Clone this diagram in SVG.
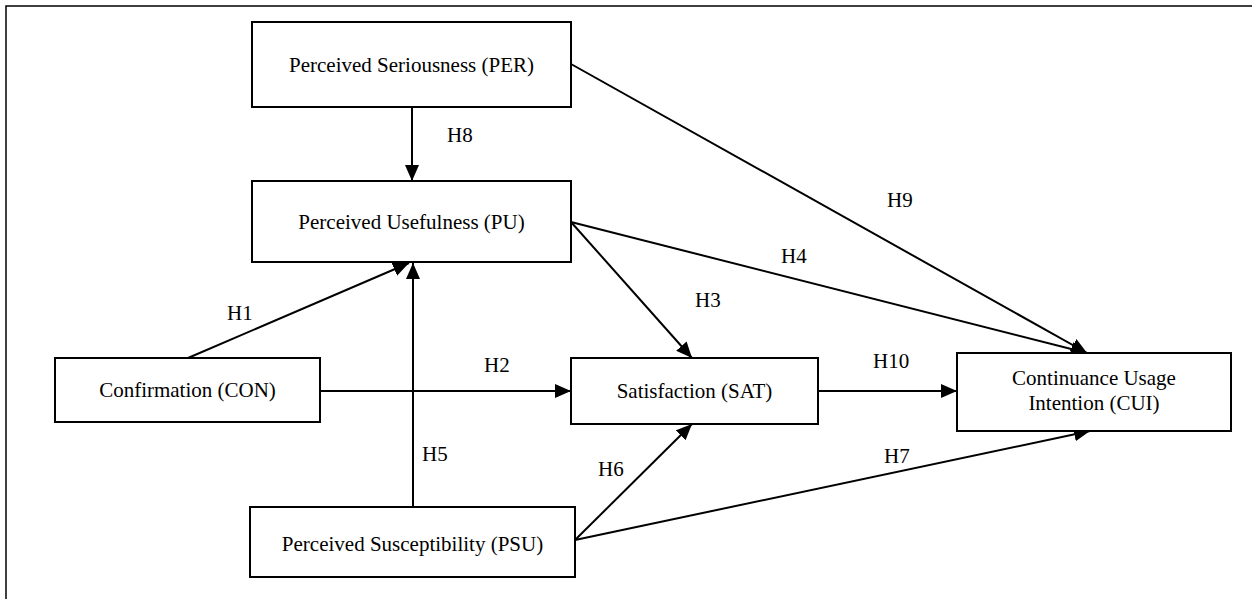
<svg xmlns="http://www.w3.org/2000/svg" width="1252" height="599" viewBox="0 0 1252 599">
<style>
.box{fill:#fff;stroke:#000;stroke-width:2}
.t{font-family:"Liberation Serif","Times New Roman",serif;font-size:21px;fill:#000}
.c{text-anchor:middle}
.ln{stroke:#000;stroke-width:2;fill:none}
</style>
<defs>
<marker id="ah" markerUnits="userSpaceOnUse" markerWidth="16" markerHeight="14" refX="16" refY="7" orient="auto">
<path d="M0,0 L16,7 L0,14 z" fill="#000"/>
</marker>
</defs>
<rect x="0" y="0" width="1252" height="599" fill="#fff"/>
<rect x="6" y="6" width="1260" height="620" fill="none" stroke="#000" stroke-width="1.5"/>
<g id="connectors">
<line class="ln" x1="412" y1="107" x2="412" y2="181" marker-end="url(#ah)"/>
<line class="ln" x1="571" y1="64" x2="1087" y2="353" marker-end="url(#ah)"/>
<line class="ln" x1="571" y1="222" x2="1087" y2="353" marker-end="url(#ah)"/>
<line class="ln" x1="571" y1="222" x2="692" y2="358" marker-end="url(#ah)"/>
<line class="ln" x1="818" y1="391" x2="957" y2="391" marker-end="url(#ah)"/>
<line class="ln" x1="320" y1="391" x2="571" y2="391" marker-end="url(#ah)"/>
<line class="ln" x1="188" y1="358" x2="409" y2="263" marker-end="url(#ah)"/>
<line class="ln" x1="413" y1="507" x2="413" y2="263" marker-end="url(#ah)"/>
<line class="ln" x1="575" y1="540" x2="692" y2="424" marker-end="url(#ah)"/>
<line class="ln" x1="575" y1="540" x2="1090" y2="431" marker-end="url(#ah)"/>
<text class="t" x="447" y="142">H8</text>
<text class="t" x="887" y="207">H9</text>
<text class="t" x="781" y="263">H4</text>
<text class="t" x="695" y="307">H3</text>
<text class="t" x="873" y="368">H10</text>
<text class="t" x="484" y="372">H2</text>
<text class="t" x="227" y="320">H1</text>
<text class="t" x="422" y="461">H5</text>
<text class="t" x="598" y="476">H6</text>
<text class="t" x="884" y="463">H7</text>
</g>
<g id="per"><rect class="box" x="252" y="22" width="319" height="85"/><text class="t c" x="411.5" y="72">Perceived Seriousness (PER)</text></g>
<g id="pu"><rect class="box" x="252" y="181" width="319" height="81"/><text class="t c" x="411.5" y="229">Perceived Usefulness (PU)</text></g>
<g id="con"><rect class="box" x="55" y="358" width="265" height="64"/><text class="t c" x="187.5" y="397">Confirmation (CON)</text></g>
<g id="sat"><rect class="box" x="571" y="358" width="247" height="66"/><text class="t c" x="694.5" y="398">Satisfaction (SAT)</text></g>
<g id="cui"><rect class="box" x="957" y="353" width="274" height="78"/><text class="t c" x="1094" y="385">Continuance Usage</text><text class="t c" x="1094" y="410">Intention (CUI)</text></g>
<g id="psu"><rect class="box" x="250" y="507" width="325" height="70"/><text class="t c" x="412.5" y="551">Perceived Susceptibility (PSU)</text></g>
</svg>
